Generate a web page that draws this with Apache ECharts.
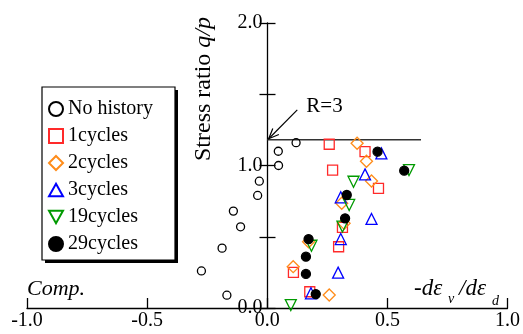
<!DOCTYPE html>
<html><head><meta charset="utf-8">
<script src="https://cdn.jsdelivr.net/npm/echarts@6/dist/echarts.min.js"></script>
<style>html,body{margin:0;padding:0;background:#fff}#c{width:523px;height:334px}</style>
</head><body><div id="c"></div>
<script>
// ---- data ----
const seriesNames = ['No history','1cycles','2cycles','3cycles','19cycles','29cycles'];
const noHistory = [[0.12,1.16],[0.046,1.10],[0.047,1.00],[-0.033,0.89],[-0.040,0.79],[-0.141,0.68],[-0.111,0.57],[-0.188,0.42],[-0.274,0.26],[-0.168,0.09]];
const cyc1 = [[0.258,1.149],[0.407,1.097],[0.272,0.968],[0.463,0.84],[0.313,0.566],[0.297,0.43],[0.109,0.25],[0.177,0.114]];
const cyc2 = [[0.374,1.156],[0.413,1.03],[0.434,0.891],[0.31,0.735],[0.32,0.594],[0.172,0.465],[0.108,0.29],[0.258,0.091]];
const cyc3 = [[0.475,1.085],[0.407,0.938],[0.306,0.777],[0.434,0.625],[0.306,0.484],[0.295,0.248],[0.182,0.103]];
const cyc19 = [[0.59,0.968],[0.359,0.886],[0.341,0.723],[0.313,0.571],[0.184,0.437],[0.098,0.02]];
const cyc29 = [[0.459,1.097],[0.57,0.964],[0.331,0.793],[0.324,0.629],[0.172,0.484],[0.161,0.36],[0.161,0.239],[0.202,0.098]];
const rLine = [[0,1.18],[0.64,1.18]];
const arrowFrom = [0.125,1.39];
const arrowTo = [0.006,1.188];
const xTicks = [-1.0,-0.5,0.0,0.5,1.0];
const yLabelled = [0.0,1.0,2.0];
const xMin = -1, xMax = 1;

const FONT = 'Liberation Serif';
const W = 523, GL = 27, GR = 15;
const gridW = W - GL - GR;
const yOffset = -((0 - xMin) / (xMax - xMin)) * gridW;

const chart = echarts.init(document.getElementById('c'));
const tri = 'path://M5,0 L10,9 L0,9 Z';
const triDown = 'path://M0,0 L10,0 L5,9 Z';

function sc(name, data, symbol, size, color, filled) {
  return {
    name, type:'scatter', data, symbol, symbolSize:size, z:3,
    itemStyle:{ color: filled ? color : 'rgba(255,255,255,0)', borderColor: color, borderWidth: 1.3, opacity:1 }
  };
}

const legendBase = {
  data: seriesNames, orient:'vertical',
  padding:[12,22,6,6], itemGap:7, itemWidth:14, itemHeight:14,
  textStyle:{fontFamily:FONT, fontSize:20, color:'#000', lineHeight:20}
};

const option = {
  animation:false,
  backgroundColor:'#fff',
  grid:{left:GL,right:GR,top:23,bottom:26,containLabel:false},
  legend:[
    Object.assign({}, legendBase, {left:45, top:90, z:3, backgroundColor:'#000', borderWidth:0, selectedMode:false}),
    Object.assign({}, legendBase, {left:42, top:87, z:5, backgroundColor:'#fff', borderColor:'#000', borderWidth:1.2})
  ],
  xAxis:{
    type:'value', min:xMin, max:xMax, interval:0.5,
    axisLine:{onZero:true, lineStyle:{color:'#000', width:1.3}},
    axisTick:{inside:true, length:10, lineStyle:{color:'#000', width:1.3}},
    axisLabel:{fontFamily:FONT, fontSize:20, color:'#000', margin:3,
      formatter:v => xTicks.some(t=>Math.abs(t-v)<1e-9) ? v.toFixed(1) : ''},
    splitLine:{show:false}
  },
  yAxis:[{
    type:'value', min:0, max:2, interval:0.5, offset:yOffset,
    axisLine:{onZero:false, lineStyle:{color:'#000', width:1.3}},
    axisTick:{inside:false, length:8, lineStyle:{color:'#000', width:1.3}},
    axisLabel:{fontFamily:FONT, fontSize:20, color:'#000', margin:5,
      formatter:v => yLabelled.some(t=>Math.abs(t-v)<1e-9) ? v.toFixed(1) : ''},
    splitLine:{show:false}
  },{
    type:'value', min:0, max:2, interval:0.5, position:'left', offset:yOffset,
    axisLine:{show:false, onZero:false},
    axisTick:{inside:true, length:8, lineStyle:{color:'#000', width:1.3}},
    axisLabel:{show:false}, splitLine:{show:false}
  }],
  series:[
    {type:'line', data:rLine, symbol:'none', silent:true, z:2, lineStyle:{color:'#333', width:1.5}},
    sc('No history', noHistory, 'circle', 8, '#000', false),
    sc('1cycles', cyc1, 'rect', 10, '#ff2a2a', false),
    sc('2cycles', cyc2, 'diamond', 12, '#ff8c1a', false),
    sc('3cycles', cyc3, tri, 11, '#0000ff', false),
    sc('19cycles', cyc19, triDown, 11, '#009a00', false),
    sc('29cycles', cyc29, 'circle', 9, '#000', true)
  ]
};
chart.setOption(option);

const p = pt => chart.convertToPixel({gridIndex:0}, pt);
const a0 = p(arrowFrom), a1 = p(arrowTo);
const ang = Math.atan2(a0[1]-a1[1], a0[0]-a1[0]);
const wl = 11, wa = 0.4;
const w1 = [a1[0]+wl*Math.cos(ang+wa), a1[1]+wl*Math.sin(ang+wa)];
const w2 = [a1[0]+wl*Math.cos(ang-wa), a1[1]+wl*Math.sin(ang-wa)];
const yAxisX = p([0,0])[0];

chart.setOption({graphic:[
  {type:'line', shape:{x1:a0[0],y1:a0[1],x2:a1[0],y2:a1[1]}, style:{stroke:'#000',lineWidth:1.2}, z:10},
  {type:'polyline', shape:{points:[w1,a1,w2]}, style:{stroke:'#000',lineWidth:1.2,fill:null}, z:10},
  {type:'text', x:a0[0]+9, y:a0[1]-3, style:{text:'R=3', font:'21px '+FONT, fill:'#000', textVerticalAlign:'middle'}, z:10},
  {type:'text', x:yAxisX-64, y:89, rotation:Math.PI/2,
    style:{text:'{a|Stress ratio }{b|q/p}', textAlign:'center', textVerticalAlign:'middle',
      rich:{a:{fontFamily:FONT, fontSize:24, fill:'#000'}, b:{fontFamily:FONT, fontSize:24, fontStyle:'italic', fill:'#000'}}}, z:10},
  {type:'text', x:27, y:289, style:{text:'Comp.', font:'italic 22px '+FONT, fill:'#000', textVerticalAlign:'middle'}, z:10},
  {type:'text', x:414, y:289, style:{text:'-dε', font:'italic 23px '+FONT, fill:'#000', textVerticalAlign:'middle'}, z:10},
  {type:'text', x:448, y:299, style:{text:'v', font:'italic 14px '+FONT, fill:'#000', textVerticalAlign:'middle'}, z:10},
  {type:'text', x:459, y:289, style:{text:'/dε', font:'italic 23px '+FONT, fill:'#000', textVerticalAlign:'middle'}, z:10},
  {type:'text', x:492, y:301, style:{text:'d', font:'italic 14px '+FONT, fill:'#000', textVerticalAlign:'middle'}, z:10}
]});
</script></body></html>
